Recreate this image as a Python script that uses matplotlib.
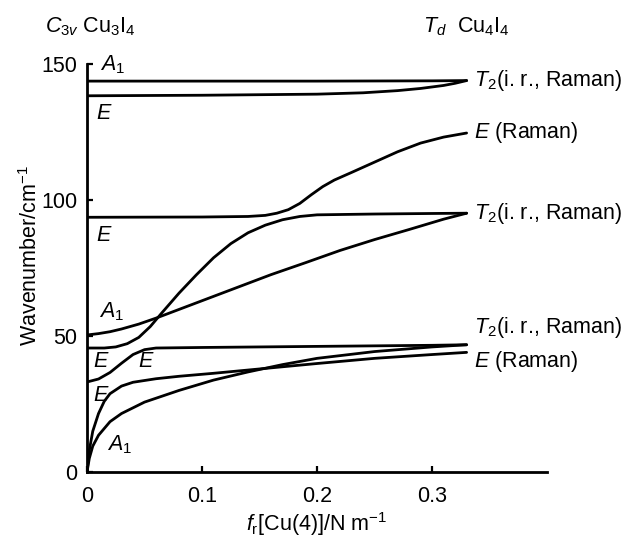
import matplotlib
matplotlib.use("Agg")
import matplotlib.pyplot as plt

plt.rcParams['font.family'] = ['Liberation Sans', 'DejaVu Sans']
plt.rcParams['mathtext.fontset'] = 'custom'
plt.rcParams['mathtext.rm'] = 'Liberation Sans'
plt.rcParams['mathtext.it'] = 'Liberation Sans:italic'

# force constant f_r[Cu(4)] / N m^-1 and wavenumbers / cm^-1
a1_top_x = [0.0, 0.1, 0.2, 0.3, 0.33]
a1_top_y = [143.8, 143.8, 143.8, 143.9, 144.0]

e_top_x = [0.0, 0.1, 0.2, 0.24, 0.27, 0.29, 0.31, 0.32, 0.33]
e_top_y = [138.4, 138.6, 139.0, 139.5, 140.3, 141.1, 142.2, 143.0, 144.0]

e_mid_x = [0.0, 0.1, 0.14, 0.155, 0.165, 0.175, 0.185, 0.195, 0.205, 0.215, 0.23,
           0.25, 0.27, 0.29, 0.31, 0.33]
e_mid_y = [93.7, 93.8, 94.0, 94.4, 95.2, 96.5, 98.8, 102.0, 105.0, 107.4, 110.2,
           114.0, 117.8, 121.0, 123.2, 124.7]

e_rise_x = [0.0, 0.015, 0.025, 0.035, 0.045, 0.055, 0.065, 0.08, 0.095, 0.11, 0.125,
            0.14, 0.155, 0.17, 0.185, 0.2, 0.25, 0.3, 0.33]
e_rise_y = [45.6, 45.6, 46.0, 47.2, 49.5, 53.5, 58.5, 65.8, 72.5, 78.8, 84.0,
            88.0, 90.8, 92.8, 94.0, 94.6, 94.9, 95.1, 95.2]

a1_mid_x = [0.0, 0.01, 0.02, 0.03, 0.045, 0.06, 0.08, 0.1, 0.13, 0.16, 0.19, 0.22,
            0.25, 0.28, 0.31, 0.33]
a1_mid_y = [50.4, 50.9, 51.6, 52.6, 54.4, 56.6, 59.8, 63.0, 67.8, 72.6, 77.0, 81.5,
            85.5, 89.2, 93.0, 95.2]

e_low_x = [0.0, 0.01, 0.02, 0.03, 0.04, 0.05, 0.06, 0.1, 0.15, 0.2, 0.25, 0.3, 0.33]
e_low_y = [33.1, 34.2, 36.6, 40.0, 43.2, 45.0, 45.6, 45.8, 46.0, 46.2, 46.4, 46.6, 46.8]

e_bot_x = [0.0, 0.002, 0.005, 0.01, 0.015, 0.02, 0.03, 0.04, 0.06, 0.08, 0.11, 0.14,
           0.17, 0.2, 0.25, 0.3, 0.33]
e_bot_y = [0.0, 8.0, 15.0, 21.5, 26.0, 28.8, 31.6, 33.0, 34.3, 35.2, 36.3, 37.5,
           38.7, 39.9, 41.8, 43.2, 44.0]

a1_bot_x = [0.0, 0.002, 0.005, 0.01, 0.02, 0.03, 0.05, 0.08, 0.11, 0.14, 0.17, 0.2,
            0.25, 0.3, 0.33]
a1_bot_y = [0.0, 5.0, 9.5, 13.5, 18.5, 21.5, 25.7, 30.0, 33.8, 36.8, 39.5, 41.8,
            44.3, 46.0, 46.8]

curves = [(a1_top_x, a1_top_y), (e_top_x, e_top_y), (e_mid_x, e_mid_y),
          (e_rise_x, e_rise_y), (a1_mid_x, a1_mid_y), (e_low_x, e_low_y),
          (e_bot_x, e_bot_y), (a1_bot_x, a1_bot_y)]

left_labels = [(0.011, 150, '$A_1$'), (0.008, 132, '$E$'), (0.008, 87, '$E$'),
               (0.010, 59, '$A_1$'), (0.005, 40.5, '$E$'), (0.044, 40.5, '$E$'),
               (0.005, 28.3, '$E$'), (0.017, 10, '$A_1$')]

right_labels = [(144.0, '$T_2$(i. r., Raman)'), (125.0, '$E$ (Raman)'),
                (95.2, '$T_2$(i. r., Raman)'), (53.0, '$T_2$(i. r., Raman)'),
                (40.8, '$E$ (Raman)')]

fig = plt.figure(figsize=(6.26, 5.40), dpi=100)
ax = fig.add_axes([0.139, 0.126, 0.735, 0.755])

for xs, ys in curves:
    ax.plot(xs, ys, color='black', lw=2.0, solid_capstyle='round')

fs = 15.5
for x, y, s in left_labels:
    ax.text(x, y, s, fontsize=fs, ha='left', va='center')
for y, s in right_labels:
    ax.text(0.336, y, s, fontsize=fs, ha='left', va='center')

ax.set_xlim(0, 0.4)
ax.set_ylim(0, 150)
ax.set_xticks([0, 0.1, 0.2, 0.3])
ax.set_xticklabels(['0', '0.1', '0.2', '0.3'])
ax.set_yticks([0, 50, 100, 150])
ax.tick_params(direction='in', length=4, width=1.6, labelsize=fs)
ax.tick_params(axis='x', pad=10)
ax.tick_params(axis='y', pad=7)
for side in ['top', 'right']:
    ax.spines[side].set_visible(False)
for side in ['left', 'bottom']:
    ax.spines[side].set_linewidth(2.0)

ax.set_ylabel('Wavenumber/cm$^{-1}$', fontsize=fs)
ax.yaxis.set_label_coords(-0.098, 0.53)
ax.set_xlabel('$f_\\mathrm{r}$[Cu(4)]/N m$^{-1}$', fontsize=fs, labelpad=2)

fig.text(0.072, 0.951, '$C_{3v}$ Cu$_3$I$_4$', fontsize=fs, ha='left', va='center')
fig.text(0.676, 0.951, '$T_d$  Cu$_4$I$_4$', fontsize=fs, ha='left', va='center')

fig.savefig('out.png', dpi=100)
